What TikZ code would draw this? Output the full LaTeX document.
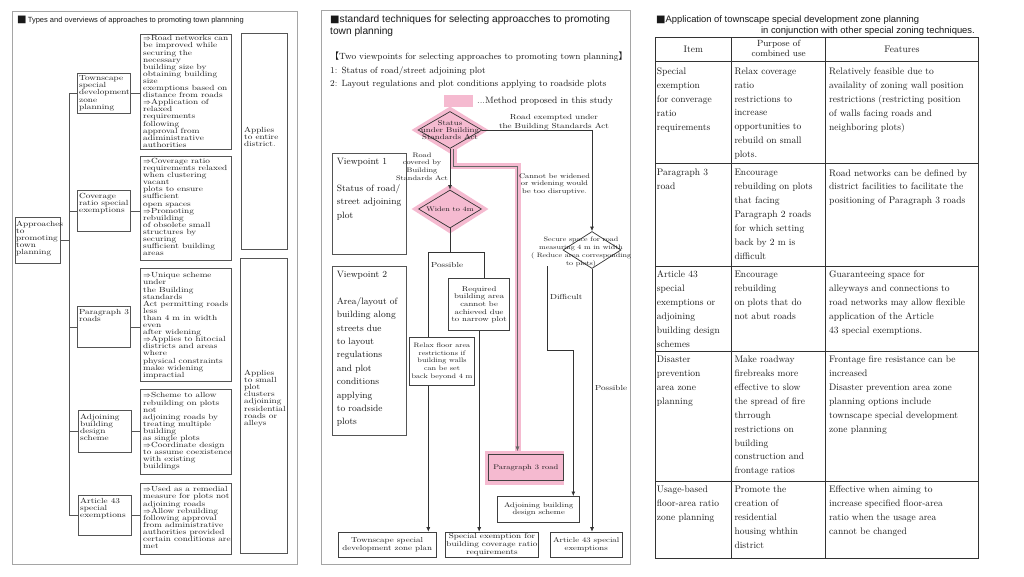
\documentclass[tikz,border=0pt]{standalone}
\usepackage{fontspec}
\usetikzlibrary{shapes.geometric,arrows.meta}
\newfontfamily\sq{lmroman10-regular.otf}[FakeStretch=1.25]
\newfontfamily\hv{Liberation Sans}
\newfontfamily\djsq{DejaVu Sans}
\newfontfamily\cjkf{Noto Sans CJK SC}
\newcommand\fs[2]{\fontsize{#1}{#2}\selectfont}
\newcommand\myra{\ensuremath{\Rightarrow}}
\definecolor{pinkc}{RGB}{245,186,208}
\definecolor{bl}{RGB}{85,85,85}
\definecolor{fr}{RGB}{165,165,165}
\definecolor{tx}{RGB}{25,25,25}
\begin{document}
\begin{tikzpicture}[x=1pt,y=-1pt,
 box/.style={draw=bl, line width=0.8pt, fill=white, inner sep=0, anchor=north west},
 frm/.style={draw=fr, line width=0.8pt, inner sep=0, anchor=north west},
 txt/.style={inner sep=0, anchor=north west, align=left, text=tx},
 ctx/.style={inner sep=0, align=center, text=tx},
 lbl/.style={inner sep=0, anchor=west, text=tx},
 sml/.style={font=\sq\fs{7.4}{7.1}},
 ln/.style={draw=bl, line width=0.8pt},
 fl/.style={draw=black!80, line width=0.7pt},
 arr/.style={fl, -{Latex[length=4.5pt,width=4pt]}},
 dia/.style={diamond, inner sep=0},
 mbox/.style={box, draw=black!75, line width=0.7pt},
 tcell/.style={txt, font=\fs{9.5}{13.9}},
 tl/.style={draw=black!80, line width=0.7pt},
]
\fill[white] (0,0) rectangle (1024,576);
\useasboundingbox (0,0) rectangle (1024,576);

%================ LEFT PANEL ================
\node[frm, minimum width=285, minimum height=553] (FL) at (12,11) {};
\node[lbl] (TL) at (17,20.5) {{\djsq\fs{10}{10}■}\hv\fs{7.5}{8}\,Types and overviews of approaches to promoting town plannning};

\node[box, minimum width=45, minimum height=46] (LA) at (15,217) {};
\node[box, minimum width=53, minimum height=40] (L1) at (77,73) {};
\node[box, minimum width=53, minimum height=41] (L2) at (77,190) {};
\node[box, minimum width=53, minimum height=41] (L3) at (77,306) {};
\node[box, minimum width=53, minimum height=42] (L4) at (78,410) {};
\node[box, minimum width=53, minimum height=40] (L5) at (78,495) {};
\node[box, minimum width=91, minimum height=115] (B1) at (140,34) {};
\node[box, minimum width=91, minimum height=104] (B2) at (140,156) {};
\node[box, minimum width=91, minimum height=113] (B3) at (140,268) {};
\node[box, minimum width=91, minimum height=85] (B4) at (140,389) {};
\node[box, minimum width=91, minimum height=71] (B5) at (140,483) {};
\node[box, minimum width=46, minimum height=216] (E1) at (241,33) {};
\node[box, minimum width=47, minimum height=295] (E2) at (240,258) {};

\node[txt, sml] (LAt) at (16,220.5) {Approaches\\to\\promoting\\town\\planning};
\node[txt, sml] (L1t) at (79,75.5) {Townscape\\special\\development\\zone\\planning};
\node[txt, sml] (L2t) at (79,193) {Coverage\\ratio special\\exemptions};
\node[txt, sml] (L3t) at (79,309) {Paragraph 3\\roads};
\node[txt, sml] (L4t) at (80,414) {Adjoining\\building\\design\\scheme};
\node[txt, sml] (L5t) at (80,497.5) {Article 43\\special\\exemptions};

\node[txt, sml] (B1t) at (143,35.5) {\myra Road networks can\\be improved while\\securing the\\necessary\\building size by\\obtaining building\\size\\exemptions based on\\distance from roads\\\myra Application of\\relaxed\\requirements\\following\\approval from\\adiministrative\\authorities};
\node[txt, sml] (B2t) at (143,158) {\myra Coverage ratio\\requirements relaxed\\when clustering\\vacant\\plots to ensure\\sufficient\\open spaces\\\myra Promoting\\rebuilding\\of obsolete small\\structures by\\securing\\sufficient building\\areas};
\node[txt, sml] (B3t) at (143,272.5) {\myra Unique scheme\\under\\the Building\\standards\\Act permitting roads\\less\\than 4 m in width\\even\\after widening\\\myra Applies to hitocial\\districts and areas\\where\\physical constraints\\make widening\\impractial};
\node[txt, sml] (B4t) at (143,392.5) {\myra Scheme to allow\\rebuilding on plots\\not\\adjoining roads by\\treating multiple\\building\\as single plots\\\myra Coordinate design\\to assume coexistence\\with existing\\buildings};
\node[txt, sml] (B5t) at (143,486.5) {\myra Used as a remedial\\measure for plots not\\adjoining roads\\\myra Allow rebuilding\\following approval\\from administrative\\authorities provided\\certain conditions are\\met};
\node[txt, sml] (E1t) at (244,127) {Applies\\to entire\\district.};
\node[txt, sml] (E2t) at (244,370) {Applies\\to small\\plot\\clusters\\adjoining\\residential\\roads or\\alleys};

\coordinate (TT) at (69,93);
\coordinate (TB) at (69,515);
\draw[ln] (TT) -- (TB);
\draw[ln] (LA.east) -- (LA.east -| TT);
\foreach \a/\b in {L1/B1,L2/B2,L3/B3,L4/B4,L5/B5}{
  \draw[ln] (\a.west) -- (\a.west -| TT);
  \draw[ln] (\a.east) -- (\a.east -| \b.west);
}

%================ MIDDLE PANEL ================
\node[frm, minimum width=309, minimum height=554] (FM) at (321,10) {};
\node[txt, font=\hv\fs{10.2}{12}] (TM) at (330,15) {{\djsq\fs{10}{12}■}standard techniques for selecting approacches to promoting\\town planning};
\node[txt, font=\fs{9}{13.5}] (VP) at (330,52) {{\cjkf 【}Two viewpoints for selecting approaches to promoting town planning{\cjkf 】}\\1: Status of road/street adjoining plot\\2: Layout regulations and plot conditions applying to roadside plots};
\node[inner sep=0, fill=pinkc, minimum width=29, minimum height=12.5, anchor=north west] (LEG) at (443.3,94.3) {};
\node[lbl, font=\fs{9.2}{10}] (LEGt) at (477,101) {...Method proposed in this study};

\node[box, minimum width=74.3, minimum height=101] (V1) at (331.7,153.3) {};
\node[box, minimum width=74.3, minimum height=169] (V2) at (331.7,266) {};
\node[txt, font=\fs{9.2}{13.5}] (V1t) at (336.7,157.8) {Viewpoint 1\\[13.5pt]Status of road/\\street adjoining\\plot};
\node[txt, font=\fs{9.2}{13.4}] (V2t) at (336.7,271) {Viewpoint 2\\[13.5pt]Area/layout of\\building along\\streets due\\to layout\\regulations\\and plot\\conditions\\applying\\to roadside\\plots};

% highlighted path
\coordinate (pk0) at (453.5,149);
\coordinate (pk1) at (517.5,166);
\node[dia, fill=pinkc, minimum width=77, minimum height=47] (STp) at (450,130) {};
\node[dia, fill=pinkc, minimum width=77, minimum height=49] (WDp) at (450,209) {};
\node[fill=pinkc, inner sep=0, anchor=north west, minimum width=79, minimum height=34] (P3p) at (485,451) {};
\draw[pinkc, line width=6pt] (pk0) |- (pk1) -- (pk1 |- P3p.north);
\draw[arr, draw=black!60, line width=0.4pt] (pk0) |- (pk1) -- (pk1 |- P3p.north);

\node[dia, draw=black!80, line width=0.7pt, minimum width=64, minimum height=37] (ST) at (450,130) {};
\node[ctx, font=\sq\fs{7.1}{7.4}] (STt) at (450,130) {Status\\under Building\\Standards Act};
\node[dia, draw=black!80, line width=0.7pt, minimum width=63, minimum height=38] (WD) at (450,209) {};
\node[ctx, font=\sq\fs{6.6}{7}] (WDt) at (450,209) {Widen to 4m};
\node[dia, draw=black!80, line width=0.7pt, fill=white, minimum width=58, minimum height=37] (SC) at (592,250) {};
\node[ctx, font=\sq\fs{6.4}{8}] (SCt) at (581,252) {Secure space for road\\measuring 4 m in width\\( Reduce area corresponding\\to plots)};

\node[ctx, font=\sq\fs{7.3}{9}] (RE) at (554,122.5) {Road exempted under\\the Building Standards Act};
\node[ctx, font=\sq\fs{6.6}{7.6}] (RC) at (422,166.5) {Road\\covered by\\Building\\Standards Act};
\node[ctx, font=\sq\fs{6.7}{7.7}] (CW) at (554.5,184) {Cannot be widened\\or widening would\\be too disruptive.};
\node[lbl, font=\sq\fs{7.3}{8}] (PS1) at (431,265) {Possible};
\node[lbl, font=\sq\fs{7.3}{8}] (DF) at (550,297) {Difficult};
\node[lbl, font=\sq\fs{7.3}{8}] (PS2) at (595,388) {Possible};

\node[mbox, minimum width=61, minimum height=52] (RQ) at (448.3,278.3) {};
\node[ctx, font=\sq\fs{7}{7.7}] (RQt) at (RQ.center) {Required\\building area\\cannot be\\achieved due\\to narrow plot};
\node[mbox, fill=pinkc, minimum width=74.4, minimum height=25.7] (P3) at (488.3,454.3) {};
\node[ctx, font=\sq\fs{6.8}{8}] (P3t) at (P3.center) {Paragraph 3 road};
\node[mbox, minimum width=82, minimum height=25.7] (AD) at (497.3,496) {};
\node[ctx, font=\sq\fs{6.8}{7.7}] (ADt) at (AD.center) {Adjoining building\\design scheme};
\node[mbox, minimum width=97.7, minimum height=25.6] (TP) at (338,531.7) {};
\node[ctx, font=\sq\fs{7.2}{7.7}] (TPt) at (TP.center) {Townscape special\\development zone plan};
\node[mbox, minimum width=93.3, minimum height=25.6] (SE) at (445,531.7) {};
\node[ctx, font=\sq\fs{7.3}{8}] (SEt) at (SE.center) {Special exemption for\\building coverage ratio\\requirements};
\node[mbox, minimum width=71.7, minimum height=25.6] (AR) at (550,531.7) {};
\node[ctx, font=\sq\fs{7}{8.3}] (ARt) at (AR.center) {Article 43 special\\exemptions};

% connectors
\draw[arr] (ST.east) -| (SC.north);
\draw[arr] (ST.south) -- (WD.north);
\coordinate (pL) at (428.3,252.7);
\coordinate (pR) at (484.3,252.7);
\draw[fl] (WD.south) -- (WD.south |- pL);
\draw[fl] (pL) -- (pR) -- (pR |- RQ.north);
\draw[arr] (pL) -- (pL |- TP.north);
\draw[arr] (RQ.south) -- (RQ.south |- SE.north);
\coordinate (dA) at (547.3,266);
\coordinate (dB) at (573.3,350);
\draw[arr] (dA) |- (dB) -- (dB |- AD.north);
\draw[arr] (SC.south) -- (SC.south |- AR.north);

\node[mbox, minimum width=64.7, minimum height=48.3] (RX) at (409.3,336.7) {};
\node[ctx, font=\sq\fs{6.5}{7.6}] (RXt) at (RX.center) {Relax floor area\\restrictions if\\building walls\\can be set\\back beyond 4 m};

%================ RIGHT PANEL ================
\node[lbl] (RT1) at (656,20.5) {{\djsq\fs{10}{10}■}\hv\fs{9.4}{10}Application of townscape special development zone planning};
\node[inner sep=0, anchor=east, text=tx, font=\hv\fs{9.4}{10}] (RT2) at (975,31) {in conjunction with other special zoning techniques.};

\draw[tl] (655,37.3) rectangle (978.3,558.3);
\draw[tl] (731.7,37.3) -- (731.7,558.3);
\draw[tl] (825.7,37.3) -- (825.7,558.3);
\foreach \yy in {61,163.3,266,351.7,481.7}{\draw[tl] (655,\yy) -- (978.3,\yy);}
\draw[black!80, line width=1.6pt] (978.3,37.3) -- (978.3,558.3) -- (655,558.3);

\node[ctx, font=\fs{9.5}{10}] (H1) at (693.3,49) {Item};
\node[ctx, font=\fs{9}{9.5}] (H2) at (778.7,48.5) {Purpose of\\combined use};
\node[ctx, font=\fs{9.5}{10}] (H3) at (902,49) {Features};

\node[tcell] (c11) at (656.7,67.5) {Special\\exemption\\for converage\\ratio\\requirements};
\node[tcell] (c12) at (734.3,67.5) {Relax coverage\\ratio\\restrictions to\\increase\\opportunities to\\rebuild on small\\plots.};
\node[tcell] (c13) at (829,67.5) {Relatively feasible due to\\availality of zoning wall position\\restrictions (restricting position\\of walls facing roads and\\neighboring plots)};

\node[tcell] (c21) at (656.7,169.1) {Paragraph 3\\road};
\node[tcell] (c22) at (734.3,169.1) {Encourage\\rebuilding on plots\\that facing\\Paragraph 2 roads\\for which setting\\back by 2 m is\\difficult};
\node[tcell] (c23) at (829,169.1) {Road networks can be defined by\\district facilities to facilitate the\\positioning of Paragraph 3 roads};

\node[tcell] (c31) at (656.7,270.8) {Article 43\\special\\exemptions or\\adjoining\\building design\\schemes};
\node[tcell] (c32) at (734.3,270.8) {Encourage\\rebuilding\\on plots that do\\not abut roads};
\node[tcell] (c33) at (829,270.8) {Guaranteeing space for\\alleyways and connections to\\road networks may allow flexible\\application of the Article\\43 special exemptions.};

\node[tcell] (c41) at (656.7,355.8) {Disaster\\prevention\\area zone\\planning};
\node[tcell] (c42) at (734.3,355.8) {Make roadway\\firebreaks more\\effective to slow\\the spread of fire\\thrrough\\restrictions on\\building\\construction and\\frontage ratios};
\node[tcell] (c43) at (829,355.8) {Frontage fire resistance can be\\increased\\Disaster prevention area zone\\planning options include\\townscape special development\\zone planning};

\node[tcell] (c51) at (656.7,485.8) {Usage-based\\floor-area ratio\\zone planning};
\node[tcell] (c52) at (734.3,485.8) {Promote the\\creation of\\residential\\housing whthin\\district};
\node[tcell] (c53) at (829,485.8) {Effective when aiming to\\increase specified floor-area\\ratio when the usage area\\cannot be changed};
\end{tikzpicture}
\end{document}
